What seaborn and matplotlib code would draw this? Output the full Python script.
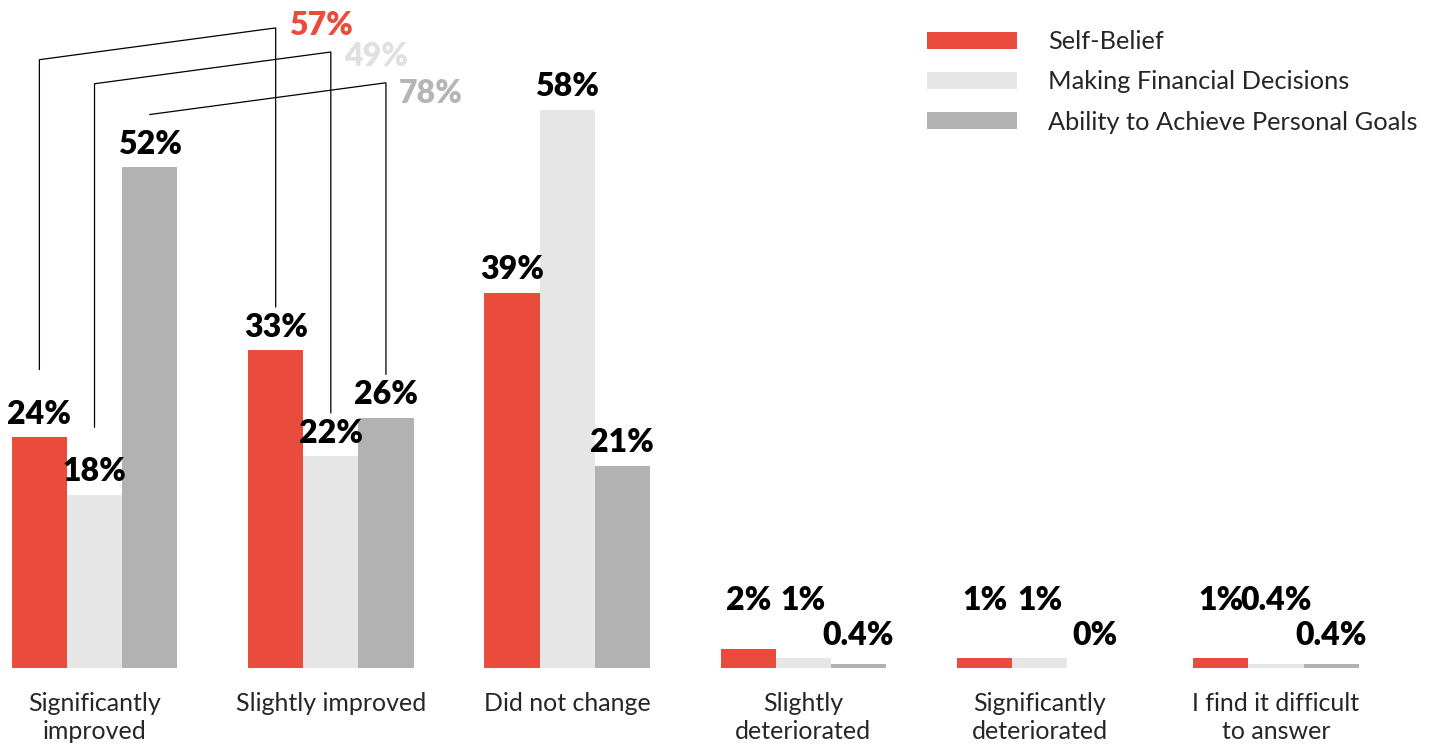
import matplotlib
matplotlib.use("Agg")
import matplotlib.pyplot as plt
import seaborn as sns
import pandas as pd
from matplotlib.patches import Patch

categories = ["Significantly\nimproved", "Slightly improved", "Did not change",
              "Slightly\ndeteriorated", "Significantly\ndeteriorated",
              "I find it difficult\nto answer"]
series = ["Self-Belief", "Making Financial Decisions", "Ability to Achieve Personal Goals"]
self_belief = [24, 33, 39, 2, 1, 1]
financial = [18, 22, 58, 1, 1, 0.4]
goals = [52, 26, 21, 0.4, 0, 0.4]
labels_self = ["24%", "33%", "39%", "2%", "1%", "1%"]
labels_fin = ["18%", "22%", "58%", "1%", "1%", "0.4%"]
labels_goals = ["52%", "26%", "21%", "0.4%", "0%", "0.4%"]
totals = ["57%", "49%", "78%"]

colors = ["#E94B3C", "#E6E6E6", "#B2B2B2"]
total_colors = ["#E94B3C", "#E0E0E0", "#B5B5B5"]

sns.set_style("white")
plt.rcParams["font.family"] = ["Lato", "DejaVu Sans"]

rows = []
for vals, s in zip([self_belief, financial, goals], series):
    for c, v in zip(categories, vals):
        rows.append({"cat": c, "series": s, "value": v})
df = pd.DataFrame(rows)

fig = plt.figure(figsize=(14.32, 7.44), dpi=100)
ax = fig.add_axes([0, 76 / 744, 1, 668 / 744])
sns.barplot(data=df, x="cat", y="value", hue="series", order=categories,
            hue_order=series, palette=colors, width=0.7, gap=0,
            linewidth=0, saturation=1, ax=ax, legend=False)
ax.set_xlim(-0.40, 5.66)
ax.set_ylim(0, 69.4)
sns.despine(ax=ax, left=True, bottom=True)
ax.set_yticks([])
ax.set_xlabel("")
ax.set_ylabel("")
ax.tick_params(axis="x", length=0, pad=17, labelsize=18)
for t in ax.get_xticklabels():
    t.set_linespacing(1.3)
    t.set_verticalalignment("top")

# value labels
all_labels = [labels_self, labels_fin, labels_goals]
centers = []
for hi, cont in enumerate(ax.containers):
    cs = []
    for ci, bar in enumerate(cont):
        x = bar.get_x() + bar.get_width() / 2
        h = bar.get_height()
        cs.append((x, h))
        if max(self_belief[ci], financial[ci], goals[ci]) < 5:
            y = 6.0 if hi < 2 else 2.4
        else:
            y = h + 1.4
        ax.text(x, y, all_labels[hi][ci], ha="center", va="baseline",
                fontsize=23, fontweight="heavy", color="black")
    centers.append(cs)

# brackets joining first two categories
top_right = [66.5, 64.0, 60.8]
text_dy = [0.2, -0.5, -1.1]
rise = 3.3
for hi in range(3):
    (x0, h0), (x1, h1) = centers[hi][0], centers[hi][1]
    yr = top_right[hi]
    yl = yr - rise
    xs, ys = [], []
    if h0 + 7 < yl:
        xs += [x0]
        ys += [h0 + 7]
    xs += [x0, x1, x1]
    ys += [yl, yr, h1 + 4.5]
    ax.plot(xs, ys, color="black", lw=0.9, solid_joinstyle="miter")
    ax.text(x1 + 0.055, yr + text_dy[hi], totals[hi], ha="left", va="center",
            fontsize=23, fontweight="heavy", color=total_colors[hi])

handles = [Patch(facecolor=c, edgecolor="none", label=s) for c, s in zip(colors, series)]
fig.legend(handles=handles, loc="upper left", bbox_to_anchor=(927 / 1432, 1 - 30 / 744),
           frameon=False, fontsize=18.3, handlelength=3.55, handleheight=0.66,
           handletextpad=1.2, labelspacing=0.68, borderpad=0, borderaxespad=0)

fig.savefig("out.png", dpi=100)
